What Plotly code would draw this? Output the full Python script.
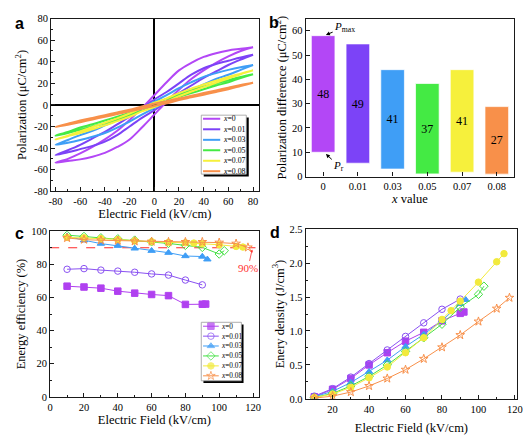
import plotly.graph_objects as go

SERIF = "Liberation Serif, Times New Roman, Times, serif"
SANS = "Liberation Sans, Arial, Helvetica, sans-serif"
W, H = 530, 437

# ---------------- data ----------------
comps = ["0", "0.01", "0.03", "0.05", "0.07", "0.08"]
colors = ["#b347f6", "#7c43f7", "#3f9ef6", "#44ea44", "#f6f03c", "#f8904a"]
c_colors = ["#b040f0", "#8a52f2", "#3f9ef6", "#44e044", "#f2ea3c", "#f8904a"]
symbols = ["square", "circle-open", "triangle-up", "diamond-open", "circle", "star-open"]

# tick labels of panel a (hyphen minus as in the original)
a_ticks = [-80, -60, -40, -20, 0, 20, 40, 60, 80]
a_ticktext = ["-80", "-60", "-40", "-20", "0", "20", "40", "60", "80"]

# panel a : P-E loops (upper = descending branch, lower = ascending branch)
E_grid = [-80, -70, -60, -50, -40, -30, -20, -10, 0, 10, 20, 30, 40, 50, 60, 70, 80]
P_desc = {
    "0":    [-53.5, -50, -45, -39, -32, -24, -14, -3, 9, 21, 32, 39, 44.5, 48, 50.5, 52, 53.5],
    "0.01": [-46.5, -42, -37, -31, -25, -18, -11, -3, 5, 12, 20, 28, 34, 38, 41, 44, 46.5],
    "0.03": [-37, -32.5, -28, -24, -19, -14, -9, -3, 3, 9, 15.5, 21, 26, 29.5, 32.5, 35, 37],
    "0.05": [-28.5, -25, -21, -18, -14.5, -11, -7.5, -3, 1.5, 5.5, 9.5, 13.5, 17, 20, 23, 26, 28.5],
    "0.07": [-32, -28.5, -24.5, -20.5, -16.5, -12.5, -8, -3, 2, 6, 11, 15, 19, 22.5, 26, 29, 32],
    "0.08": [-20.5, -17.5, -14.5, -12, -9.5, -7, -4.5, -1.5, 1, 3.5, 6, 8.5, 11, 13.5, 16, 18.5, 20.5],
}
P_asc = {
    "0":    [-53.5, -52, -50.5, -48, -44.5, -39, -32, -21, -9, 3, 14, 24, 32, 39, 45, 50, 53.5],
    "0.01": [-46.5, -44, -41, -38, -34, -28, -20, -12, -5, 3, 11, 18, 25, 31, 37, 42, 46.5],
    "0.03": [-37, -35, -32.5, -29.5, -26, -21, -15.5, -9, -3, 3, 9, 14, 19, 24, 28, 32.5, 37],
    "0.05": [-28.5, -26, -23, -20, -17, -13.5, -9.5, -5.5, -1.5, 3, 7.5, 11, 14.5, 18, 21, 25, 28.5],
    "0.07": [-32, -29, -26, -22.5, -19, -15, -11, -6, -2, 3, 8, 12.5, 16.5, 20.5, 24.5, 28.5, 32],
    "0.08": [-20.5, -18.5, -16, -13.5, -11, -8.5, -6, -3.5, -1, 1.5, 4.5, 7, 9.5, 12, 14.5, 17.5, 20.5],
}

# panel b : polarization difference
P_max = [58, 54.6, 44, 38.3, 44, 28.8]
P_r = [10, 5.5, 3.1, 1.1, 1.8, 1.0]
dP_labels = ["48", "49", "41", "37", "41", "27"]

# panels c, d : field values
E_fields = {
    "0":    [10, 20, 30, 40, 50, 60, 70, 80, 90, 92],
    "0.01": [10, 20, 30, 40, 50, 60, 70, 80, 90],
    "0.03": [10, 20, 30, 40, 50, 60, 70, 80, 90, 93],
    "0.05": [10, 20, 30, 40, 50, 60, 70, 80, 90, 100, 103],
    "0.07": [10, 20, 30, 40, 50, 60, 70, 80, 85, 90, 100, 110, 114],
    "0.08": [10, 20, 30, 40, 50, 60, 70, 80, 90, 100, 110, 117],
}
efficiency = {
    "0":    [66.8, 66.3, 65.6, 63.8, 62.6, 61.8, 61.1, 55.8, 55.9, 56.0],
    "0.01": [77.0, 77.4, 76.5, 75.9, 75.2, 74.2, 73.5, 70.5, 67.6],
    "0.03": [97.0, 94.5, 92.5, 91.2, 89.6, 88.2, 87.0, 85.0, 84.7, 83.0],
    "0.05": [97.6, 96.8, 96.0, 95.4, 94.6, 93.6, 92.6, 91.4, 90.2, 86.2, 88.2],
    "0.07": [96.3, 96.0, 95.5, 95.0, 94.2, 93.6, 93.2, 93.0, 92.8, 92.4, 91.8, 90.8, 90.4],
    "0.08": [95.9, 94.9, 94.5, 94.3, 93.9, 93.7, 93.5, 93.5, 93.5, 93.1, 92.5, 90.2],
}
density = {
    "0":    [0.03, 0.14, 0.30, 0.50, 0.68, 0.85, 0.98, 1.15, 1.26, 1.28],
    "0.01": [0.04, 0.15, 0.32, 0.52, 0.72, 0.92, 1.12, 1.32, 1.47],
    "0.03": [0.03, 0.11, 0.24, 0.40, 0.57, 0.77, 0.95, 1.15, 1.40, 1.46],
    "0.05": [0.02, 0.08, 0.19, 0.33, 0.50, 0.70, 0.90, 1.10, 1.35, 1.54, 1.66],
    "0.07": [0.02, 0.07, 0.17, 0.31, 0.47, 0.68, 0.90, 1.17, 1.30, 1.44, 1.72, 2.02, 2.14],
    "0.08": [0.01, 0.04, 0.10, 0.19, 0.30, 0.43, 0.59, 0.76, 0.94, 1.14, 1.33, 1.49],
}
eff_threshold = 90

# ---------------- figure ----------------
fig = go.Figure()

# panel a
for c, col in zip(comps, colors):
    fig.add_trace(go.Scatter(
        x=E_grid + E_grid[::-1], y=P_asc[c] + P_desc[c][::-1],
        mode="lines", line=dict(color=col, width=2, shape="spline", smoothing=1),
        xaxis="x", yaxis="y", showlegend=False))

# panel b
fig.add_trace(go.Bar(
    x=list(range(len(comps))), y=[m - r for m, r in zip(P_max, P_r)], base=P_r,
    width=0.68, marker=dict(color=colors, line=dict(color="rgba(255,255,255,0.7)", width=1)),
    text=dP_labels, textposition="inside", insidetextanchor="middle", textangle=0,
    textfont=dict(family=SERIF, size=12, color="black"),
    xaxis="x2", yaxis="y2", showlegend=False))

# panels c and d
for c, col, sym in zip(comps, c_colors, symbols):
    mk = dict(symbol=sym, size=6.5, color=col, line=dict(color=col, width=1))
    fig.add_trace(go.Scatter(x=E_fields[c], y=efficiency[c], mode="lines+markers",
                             line=dict(color=col, width=1), marker=mk,
                             xaxis="x3", yaxis="y3", showlegend=False))
    fig.add_trace(go.Scatter(x=E_fields[c], y=density[c], mode="lines+markers",
                             line=dict(color=col, width=1), marker=mk,
                             xaxis="x4", yaxis="y4", showlegend=False))

# ---------------- legends (drawn in a pixel overlay axis) ----------------
leg_a_rows = [116.7, 127.5, 138.3, 149.0, 159.8, 170.5]
leg_c_rows = [329.5, 339.7, 349.8, 360.0, 370.2, 380.4]
shapes = []
annotations = []
for (x0, y0, x1, y1, off) in [(201.7, 113, 247.5, 173.5, 2.5), (201.7, 325.5, 242.5, 385.5, 2.2)]:
    shapes.append(dict(type="rect", xref="x5", yref="y5", x0=x0 + off, y0=y0 + off, x1=x1 + off, y1=y1 + off,
                       fillcolor="black", line=dict(width=0), layer="below"))
    shapes.append(dict(type="rect", xref="x5", yref="y5", x0=x0, y0=y0, x1=x1, y1=y1,
                       fillcolor="white", line=dict(color="#9a9a9a", width=0.8), layer="below"))
for c, col, yy in zip(comps, colors, leg_a_rows):
    fig.add_trace(go.Scatter(x=[203.5, 221.0], y=[yy, yy], mode="lines",
                             line=dict(color=col, width=2), xaxis="x5", yaxis="y5",
                             showlegend=False, hoverinfo="skip"))
    annotations.append(dict(x=221.5, y=yy, xref="x5", yref="y5", text="<i>x</i>=" + c,
                            showarrow=False, xanchor="left", yanchor="middle",
                            font=dict(family=SERIF, size=7.8, color="black")))
for c, col, sym, yy in zip(comps, c_colors, symbols, leg_c_rows):
    fig.add_trace(go.Scatter(x=[203.5, 211.5, 219.5], y=[yy, yy, yy], mode="lines+markers",
                             line=dict(color=col, width=1),
                             marker=dict(symbol=sym, size=[0, 6.5, 0], color=col, line=dict(color=col, width=1)),
                             xaxis="x5", yaxis="y5", showlegend=False, hoverinfo="skip"))
    annotations.append(dict(x=219.8, y=yy, xref="x5", yref="y5", text="<i>x</i>=" + c,
                            showarrow=False, xanchor="left", yanchor="middle",
                            font=dict(family=SERIF, size=7.3, color="black")))

# panel letters
for letter, lx, ly in [("a", 16.5, 19), ("b", 276, 18), ("c", 17, 234), ("d", 276.5, 233)]:
    annotations.append(dict(x=lx, y=ly, xref="x5", yref="y5", text="<b>" + letter + "</b>",
                            showarrow=False, xanchor="center", yanchor="middle",
                            font=dict(family=SANS, size=16, color="black")))

# panel b arrows with labels
annotations.append(dict(x=0.08, y=58.3, xref="x2", yref="y2", ax=0.62, ay=61.5, axref="x2", ayref="y2",
                        text="<i>P</i><sub>max</sub>", showarrow=True, arrowhead=2, arrowsize=0.8,
                        arrowwidth=1, arrowcolor="black", standoff=0,
                        font=dict(family=SERIF, size=11, color="black")))
annotations.append(dict(x=0.08, y=9.3, xref="x2", yref="y2", ax=0.45, ay=4.4, axref="x2", ayref="y2",
                        text="<i>P</i><sub>r</sub>", showarrow=True, arrowhead=2, arrowsize=0.8,
                        arrowwidth=1, arrowcolor="black", standoff=0,
                        font=dict(family=SERIF, size=11, color="black")))

# panel c threshold line and label
shapes.append(dict(type="line", xref="x3 domain", yref="y3", x0=0, x1=0.985, y0=eff_threshold, y1=eff_threshold,
                   line=dict(color="#ff2a2a", width=1.2, dash="dash"), layer="below"))
annotations.append(dict(x=119.5, y=89, xref="x3", yref="y3", ax=117, ay=77.5, axref="x3", ayref="y3",
                        text="90%", showarrow=True, arrowhead=2, arrowsize=0.7, arrowwidth=0.8,
                        arrowcolor="#ff3030", font=dict(family=SERIF, size=11, color="#ff3030")))

# ---------------- axes ----------------
def dx(a, b):
    return [a / W, b / W]

def dy(top, bottom):
    return [1 - bottom / H, 1 - top / H]

def ttl(text, standoff):
    return dict(text=text, standoff=standoff, font=dict(family=SERIF, size=12.5, color="black"))

LINE = "#1a1a1a"
base = dict(showline=True, linecolor=LINE, linewidth=1.3, mirror=True, ticks="inside", ticklen=4,
            tickwidth=1, tickcolor=LINE, showgrid=False, zeroline=False, ticklabeloverflow="allow",
            tickfont=dict(family=SERIF, size=10.5, color="black"))

def ax(**kw):
    d = dict(base)
    d.update(kw)
    return d

fig.update_layout(
    width=W, height=H, margin=dict(l=0, r=0, t=0, b=0),
    paper_bgcolor="white", plot_bgcolor="rgba(0,0,0,0)",
    showlegend=False,
    font=dict(family=SERIF, color="black"),
    xaxis=ax(domain=dx(49, 260), range=[-83.5, 84.5], tickvals=a_ticks, ticktext=a_ticktext, anchor="y",
             minor=dict(ticks="inside", ticklen=2, dtick=10, tickcolor=LINE),
             zeroline=True, zerolinecolor="black", zerolinewidth=2,
             title=ttl("Electric Field (kV/cm)", 2)),
    yaxis=ax(domain=dy(14, 191), range=[-80, 80], tickvals=a_ticks, ticktext=a_ticktext, anchor="x",
             minor=dict(ticks="inside", ticklen=2, dtick=10, tickcolor=LINE),
             zeroline=True, zerolinecolor="black", zerolinewidth=2,
             title=ttl("Polarization (μC/cm<sup>2</sup>)", 4)),
    xaxis2=ax(domain=dx(308, 520), range=[-0.5, 5.5], tickvals=list(range(len(comps))), ticktext=comps,
              anchor="y2", title=ttl("<i>x</i> value", 1)),
    yaxis2=ax(domain=dy(14, 176), range=[0, 65], dtick=10, anchor="x2",
              title=ttl("Polarization difference (μC/cm<sup>2</sup>)", 2)),
    xaxis3=ax(domain=dx(48, 260), range=[0, 123.3], dtick=20, anchor="y3",
              minor=dict(ticks="inside", ticklen=2, dtick=10, tickcolor=LINE),
              title=ttl("Electric Field (kV/cm)", 3)),
    yaxis3=ax(domain=dy(232, 402), range=[0, 100], dtick=20, anchor="x3",
              minor=dict(ticks="inside", ticklen=2, dtick=10, tickcolor=LINE),
              title=ttl("Energy efficiency (%)", 2)),
    xaxis4=ax(domain=dx(308, 523), range=[5.3, 121.2], tick0=20, dtick=20, anchor="y4",
              minor=dict(ticks="inside", ticklen=2, dtick=10, tickcolor=LINE),
              title=ttl("Electric Field (kV/cm)", 9)),
    yaxis4=ax(domain=dy(230, 404), range=[0, 2.5], dtick=0.5, tickformat=".1f", anchor="x4",
              minor=dict(ticks="inside", ticklen=2, dtick=0.25, tickcolor=LINE),
              title=ttl("Enery density (J/cm<sup>3</sup>)", 2)),
    xaxis5=dict(domain=[0, 1], range=[0, W], visible=False, anchor="y5", fixedrange=True),
    yaxis5=dict(domain=[0, 1], range=[H, 0], visible=False, anchor="x5", fixedrange=True),
    shapes=shapes, annotations=annotations,
)

fig.write_html("out.html", config={"displayModeBar": False},
               post_script="document.body.style.margin='0';document.body.style.padding='0';")
